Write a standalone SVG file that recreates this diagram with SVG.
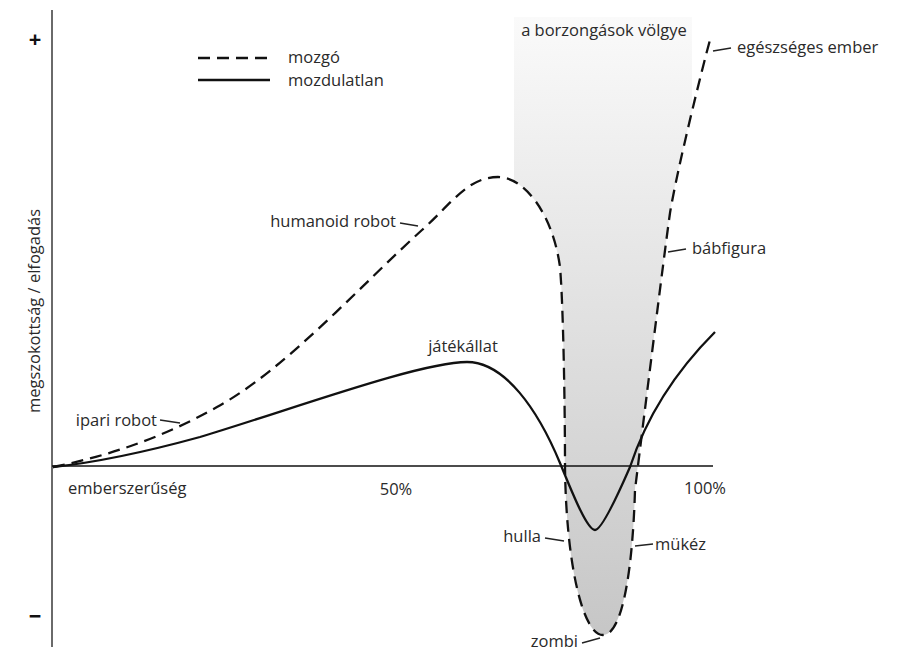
<svg xmlns="http://www.w3.org/2000/svg" width="898" height="653" viewBox="0 0 898 653">
<style>
text{font-family:"Open Sans","DejaVu Sans",sans-serif;font-size:16.5px;fill:#2a2a2a}
.dash{fill:none;stroke:#111;stroke-width:2.3;stroke-dasharray:12 7}
.solid{fill:none;stroke:#111;stroke-width:2.3}
.lead{fill:none;stroke:#222;stroke-width:1.4}
.sign{font-size:22px;font-weight:bold;fill:#111}
</style>
<defs>
<linearGradient id="vg" gradientUnits="userSpaceOnUse" x1="0" y1="17" x2="0" y2="640">
<stop offset="0" stop-color="#fafafa"/>
<stop offset="1" stop-color="#c6c6c6"/>
</linearGradient>
<clipPath id="above">
<path d="M53,467 C108,456 162,438 217,407 C285,370 360,286 422,230 C452,203 468,177 498,177 C525,177 553,215 560,267 C563,300 565,400 565,467 C566,560 582,635 603,635 C624,635 633,560 635,490 C639,457 664,255 670,213 C677,170 703,65 710,40 L712,0 L53,0 Z"/>
</clipPath>
</defs>
<rect width="898" height="653" fill="#fff"/>
<g id="valley">
<rect x="514" y="17" width="178" height="630" fill="url(#vg)" clip-path="url(#above)"/>
<text x="604" y="36" text-anchor="middle">a borzongások völgye</text>
</g>
<g id="axes">
<line x1="52" y1="10" x2="52" y2="647" stroke="#6a6a6a" stroke-width="2"/>
<line x1="52" y1="466" x2="713" y2="466" stroke="#111" stroke-width="1.5"/>
<text class="sign" x="35" y="47" text-anchor="middle">+</text>
<text class="sign" x="35" y="624" text-anchor="middle">−</text>
<text transform="translate(40,311) rotate(-90)" text-anchor="middle">megszokottság / elfogadás</text>
<text x="68" y="494">emberszerűség</text>
<text x="396" y="495" text-anchor="middle">50%</text>
<text x="705" y="494" text-anchor="middle">100%</text>
</g>
<g id="legend">
<line x1="198" y1="58" x2="270" y2="58" class="dash" stroke-dasharray="12 8"/>
<text x="288" y="63">mozgó</text>
<line x1="198" y1="80" x2="270" y2="80" class="solid"/>
<text x="288" y="86">mozdulatlan</text>
</g>
<g id="connectors">
<path id="mozgo" class="dash" d="M53,467 C108,456 162,438 217,407 C285,370 360,286 422,230 C452,203 468,177 498,177 C525,177 553,215 560,267 C563,300 565,400 565,467 C566,560 582,635 603,635 C624,635 633,560 635,490 C639,457 664,255 670,213 C677,170 703,65 710,40"/>
<path id="mozdulatlan" class="solid" d="M53,467 C100,462 160,448 200,437 C290,410 420,362 467,362 C505,362 538,410 560,463 C572,492 587,530 595,530 C602,530 620,490 630,467 C652,400 690,357 715,332"/>
</g>
<g id="label-ipari-robot">
<text x="157" y="426" text-anchor="end">ipari robot</text>
<line class="lead" x1="160" y1="420" x2="180" y2="423"/>
</g>
<g id="label-humanoid-robot">
<text x="396" y="227" text-anchor="end">humanoid robot</text>
<line class="lead" x1="400" y1="223" x2="418" y2="226"/>
</g>
<g id="label-jatekallat">
<text x="463" y="352" text-anchor="middle">játékállat</text>
</g>
<g id="label-egeszseges-ember">
<text x="737" y="53">egészséges ember</text>
<line class="lead" x1="713" y1="51" x2="731" y2="48"/>
</g>
<g id="label-babfigura">
<text x="692" y="254">bábfigura</text>
<line class="lead" x1="668" y1="252" x2="686" y2="249"/>
</g>
<g id="label-hulla">
<text x="541" y="542" text-anchor="end">hulla</text>
<line class="lead" x1="545" y1="538" x2="564" y2="541"/>
</g>
<g id="label-mukez">
<text x="655" y="550">mükéz</text>
<line class="lead" x1="635" y1="546" x2="653" y2="544"/>
</g>
<g id="label-zombi">
<text x="578" y="647" text-anchor="end">zombi</text>
<line class="lead" x1="582" y1="643" x2="600" y2="638"/>
</g>
</svg>
